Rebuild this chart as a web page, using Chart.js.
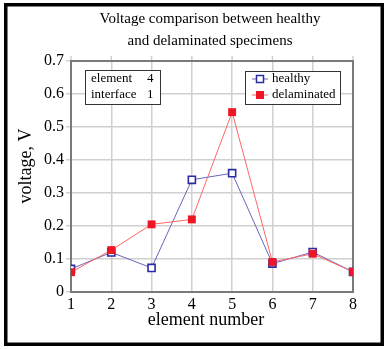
<!DOCTYPE html>
<html>
<head>
<meta charset="utf-8">
<script src="https://cdn.jsdelivr.net/npm/chart.js@4.4.1/dist/chart.umd.min.js"></script>
<style>
  html, body { margin: 0; padding: 0; background: #fff; }
  #wrap { width: 388px; height: 349px; position: relative; }
</style>
</head>
<body>
<div id="wrap"><canvas id="myCanvas" width="388" height="349"></canvas></div>
<script>
// data
const elements = [1, 2, 3, 4, 5, 6, 7, 8];
const healthy = [0.070, 0.120, 0.073, 0.340, 0.360, 0.086, 0.121, 0.061];
const delaminated = [0.060, 0.127, 0.205, 0.220, 0.545, 0.091, 0.116, 0.061];
const yTicks = [0, 0.1, 0.2, 0.3, 0.4, 0.5, 0.6, 0.7];
const titleLines = ['Voltage comparison between healthy', 'and delaminated specimens'];
const infoRows = [['element', '4'], ['interface', '1']];

const SERIF = '"Liberation Serif", "DejaVu Serif", serif';
const BLUE_LINE = '#6666bb';
const BLUE_MARK = '#2b2ba3';
const RED_LINE = '#ff6666';
const RED_MARK = '#ee1525';

// draws frame, title, axis titles, plot border and the two boxes
const extras = {
  id: 'extras',
  beforeDatasetsDraw(chart) {
    const { ctx, chartArea: a, scales } = chart;
    ctx.save();
    // little grid stubs above the top edge
    ctx.strokeStyle = '#d0d0d0';
    ctx.lineWidth = 1.5;
    elements.forEach(e => {
      const x = scales.x.getPixelForValue(e);
      ctx.beginPath(); ctx.moveTo(x, a.top - 5); ctx.lineTo(x, a.top); ctx.stroke();
    });
    // plot border
    ctx.strokeStyle = '#7a7a7a';
    ctx.lineWidth = 2;
    ctx.strokeRect(a.left, a.top, a.right - a.left, a.bottom - a.top);
    ctx.restore();
  },
  afterDatasetsDraw(chart) {
    const { ctx } = chart;
    ctx.save();
    ctx.fillStyle = '#000';
    // title
    ctx.font = '15px ' + SERIF;
    ctx.textAlign = 'center';
    ctx.textBaseline = 'middle';
    ctx.fillText(titleLines[0], 210, 19);
    ctx.fillText(titleLines[1], 210, 41);
    // axis titles
    ctx.font = '18px ' + SERIF;
    ctx.fillText('element number', 206, 320);
    ctx.save();
    ctx.translate(26, 166);
    ctx.rotate(-Math.PI / 2);
    ctx.fillText('voltage, V', 0, 0);
    ctx.restore();

    // info box
    ctx.fillStyle = '#fff';
    ctx.fillRect(85, 70, 75, 35);
    ctx.strokeStyle = '#333';
    ctx.lineWidth = 1;
    ctx.strokeRect(85.5, 70.5, 75, 34);
    ctx.fillStyle = '#000';
    ctx.font = '13px ' + SERIF;
    ctx.textAlign = 'left';
    infoRows.forEach((r, i) => {
      ctx.fillText(r[0], 91, 79 + i * 16);
      ctx.fillText(r[1], 147, 79 + i * 16);
    });

    // legend box
    ctx.fillStyle = '#fff';
    ctx.fillRect(245, 71, 95, 34);
    ctx.strokeStyle = '#333';
    ctx.strokeRect(245.5, 71.5, 95, 33);
    chart.data.datasets.slice().sort((p, q) => p.legendRow - q.legendRow).forEach((ds, i) => {
      const y = 79 + i * 16;
      ctx.strokeStyle = ds.borderColor;
      ctx.lineWidth = 1;
      ctx.beginPath(); ctx.moveTo(252, y); ctx.lineTo(268, y); ctx.stroke();
      if (ds.pointBackgroundColor === '#fff') {
        ctx.fillStyle = '#fff';
        ctx.fillRect(256.5, y - 3.5, 7, 7);
        ctx.strokeStyle = ds.pointBorderColor;
        ctx.lineWidth = 1.5;
        ctx.strokeRect(256.5, y - 3.5, 7, 7);
      } else {
        ctx.fillStyle = ds.pointBackgroundColor;
        ctx.fillRect(256, y - 4, 8, 8);
      }
      ctx.fillStyle = '#000';
      ctx.fillText(ds.label, 272, y);
    });

    // outer frame
    ctx.strokeStyle = '#000';
    ctx.lineWidth = 3.5;
    ctx.strokeRect(5.75, 4.75, 376.5, 339.5);
    ctx.restore();
  }
};

new Chart(document.getElementById('myCanvas'), {
  type: 'line',
  data: {
    datasets: [
      {
        label: 'healthy',
        legendRow: 0,
        order: 2,
        data: elements.map((e, i) => ({ x: e, y: healthy[i] })),
        borderColor: BLUE_LINE,
        borderWidth: 1,
        pointStyle: 'rect',
        pointRadius: 5,
        pointBorderWidth: 1.6,
        pointBorderColor: BLUE_MARK,
        pointBackgroundColor: '#fff',
        tension: 0
      },
      {
        label: 'delaminated',
        legendRow: 1,
        order: 1,
        data: elements.map((e, i) => ({ x: e, y: delaminated[i] })),
        borderColor: RED_LINE,
        borderWidth: 1,
        pointStyle: 'rect',
        pointRadius: 5.6,
        pointBorderWidth: 0,
        pointBorderColor: RED_MARK,
        pointBackgroundColor: RED_MARK,
        tension: 0
      }
    ]
  },
  options: {
    responsive: false,
    animation: false,
    layout: { padding: { top: 61, right: 35, left: 0, bottom: 0 } },
    plugins: { legend: { display: false }, title: { display: false }, tooltip: { enabled: false } },
    scales: {
      x: {
        type: 'linear',
        min: 1,
        max: 8,
        afterFit(s) { s.height = 57; },
        afterBuildTicks(s) { s.ticks = elements.map(v => ({ value: v })); },
        grid: { color: '#d0d0d0', lineWidth: 1.5, drawTicks: false },
        border: { display: false },
        ticks: { color: '#000', font: { family: SERIF, size: 16 }, padding: 3, maxRotation: 0 }
      },
      y: {
        min: 0,
        max: 0.7,
        afterFit(s) { s.width = 71; },
        afterBuildTicks(s) { s.ticks = yTicks.map(v => ({ value: v })); },
        grid: { color: '#d0d0d0', lineWidth: 1.5, tickLength: 5 },
        border: { display: false },
        ticks: { color: '#000', font: { family: SERIF, size: 16 }, padding: 2, callback: v => String(+v.toFixed(1)) }
      }
    }
  },
  plugins: [extras]
});
</script>
</body>
</html>
